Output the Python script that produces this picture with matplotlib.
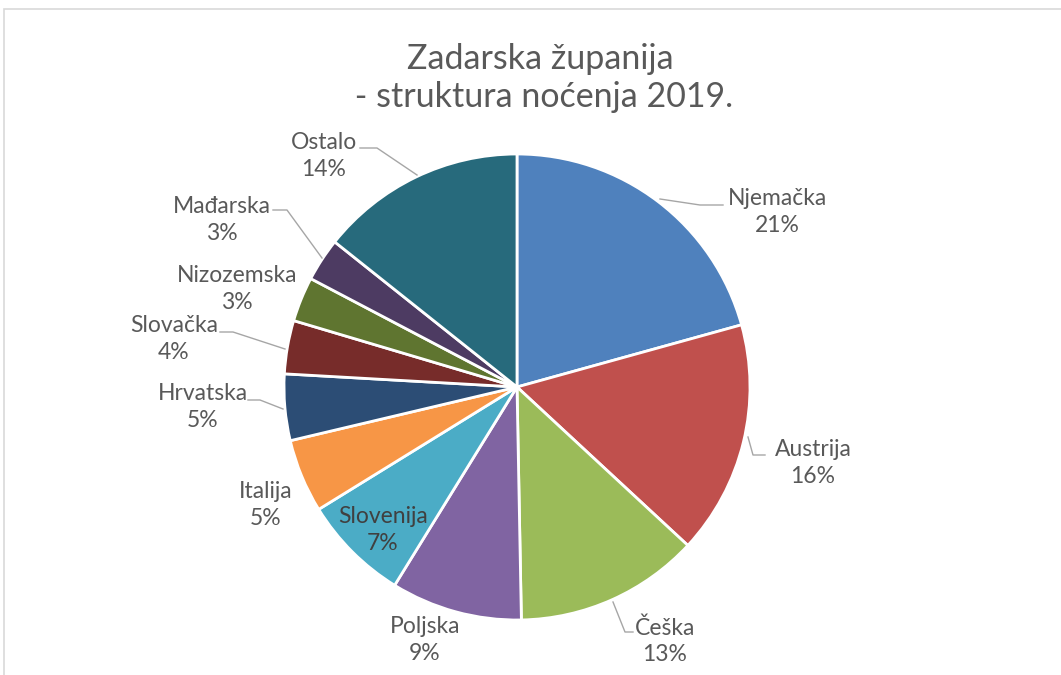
import matplotlib.pyplot as plt
from matplotlib.patches import Rectangle

# share of overnight stays (percent)
countries = ["Njemačka", "Austrija", "Češka", "Poljska", "Slovenija", "Italija",
             "Hrvatska", "Slovačka", "Nizozemska", "Mađarska", "Ostalo"]
shares = [20.7, 16.2, 12.8, 9.1, 7.4, 5.1, 4.6, 3.7, 3.1, 3.0, 14.3]
colors = ["#4F81BD", "#C0504D", "#9BBB59", "#8064A2", "#4BACC6", "#F79646",
          "#2C4D75", "#772C2A", "#5F7530", "#4D3B62", "#276A7C"]

W, H = 1061, 675
TEXT = "#595959"
FONT = "Lato"

# label placement in pixels (x, y from top) and optional leader lines
label_pos = {
    "Njemačka": (777, 212), "Austrija": (813, 463), "Češka": (665, 641),
    "Poljska": (425, 640), "Slovenija": (383, 530), "Italija": (266, 505),
    "Hrvatska": (203, 407), "Slovačka": (174, 339), "Nizozemska": (237, 289),
    "Mađarska": (222, 220), "Ostalo": (324, 156),
}
leaders = {
    "Njemačka": [(723, 205), (700, 205), (660, 199)],
    "Austrija": [(765, 455), (753, 455), (748, 437)],
    "Češka": [(633, 632), (625, 632), (613, 602)],
    "Hrvatska": [(248, 400), (260, 400), (283, 409)],
    "Slovačka": [(220, 332), (233, 332), (285, 349)],
    "Mađarska": [(273, 210), (287, 210), (322, 258)],
    "Ostalo": [(360, 148), (377, 148), (417, 175)],
}


def py(y):
    return H - y


fig = plt.figure(figsize=(W / 100, H / 100), dpi=100)
ax = fig.add_axes([0, 0, 1, 1])

# chart frame
ax.add_patch(Rectangle((4, -10), W + 10, py(9) + 10, fill=False,
                       edgecolor="#D9D9D9", linewidth=1.2))

ax.pie(shares, colors=colors, startangle=90, counterclock=False,
       center=(517, py(387)), radius=233, frame=True,
       wedgeprops=dict(edgecolor="white", linewidth=2))
ax.set_xlim(0, W)
ax.set_ylim(0, H)
ax.set_aspect("equal")
ax.axis("off")

for name, val in zip(countries, shares):
    x, y = label_pos[name]
    col = "#404040" if name == "Slovenija" else TEXT
    ax.text(x, py(y), f"{name}\n{round(val)}%", ha="center", va="center",
            fontsize=16.5, color=col, family=FONT, linespacing=1.3)
    if name in leaders:
        pts = leaders[name]
        ax.plot([p[0] for p in pts], [py(p[1]) for p in pts],
                color="#A6A6A6", linewidth=1)

ax.text(540, py(78), "Zadarska županija\n - struktura noćenja 2019.",
        ha="center", va="center", fontsize=24.5, color=TEXT, family=FONT,
        linespacing=1.26)

plt.savefig("out.png", dpi=100)
